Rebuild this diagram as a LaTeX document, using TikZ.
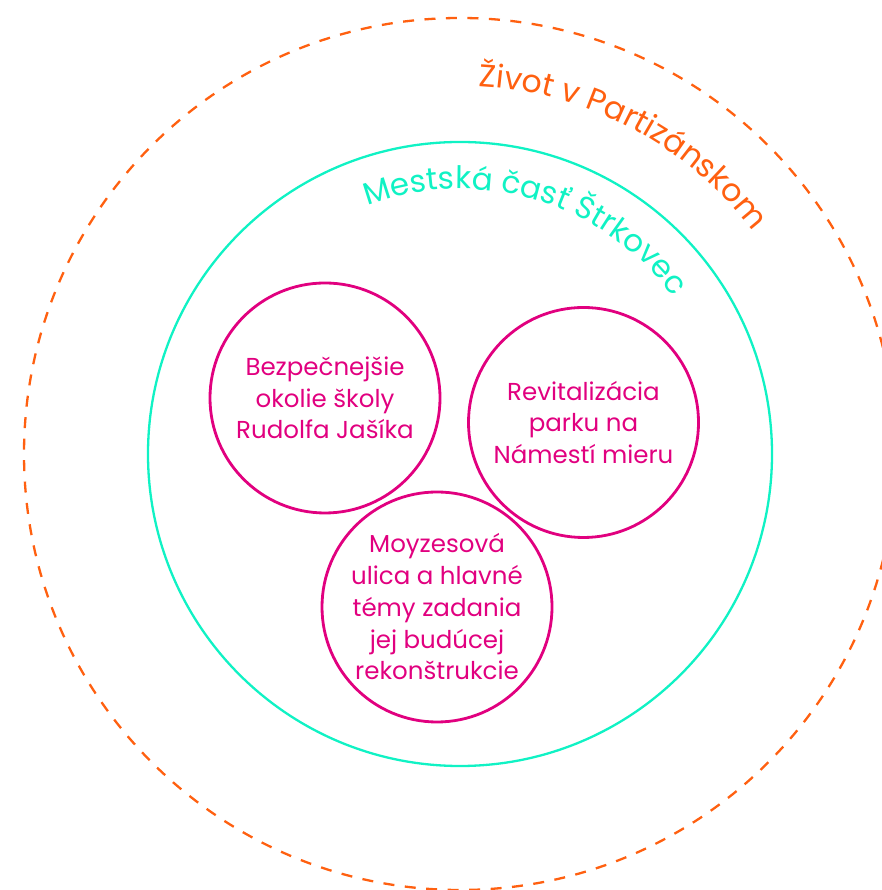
\documentclass[tikz,border=0pt]{standalone}
\usepackage{fontspec}
\setmainfont{Poppins}
\usetikzlibrary{decorations.text}
\definecolor{zivot}{HTML}{FF6010}
\definecolor{strk}{HTML}{10F2C4}
\definecolor{proj}{HTML}{E1007F}

\begin{document}
\begin{tikzpicture}[x=1pt,y=1pt,
        spot/.style={circle,draw=proj,line width=2.8pt,text=proj,align=center,
            minimum size=230pt,inner sep=0pt,font=\fontsize{24.5}{31.75}\selectfont}]
        \useasboundingbox (0,0) rectangle (881,890);
        \coordinate (m) at (460,436);

        \draw[zivot,line width=2.3pt,dash pattern=on 11pt off 10.5pt] (m) circle [radius=436];
        \draw[strk,line width=2.3pt] (m) circle [radius=312];

        \path[decorate,decoration={text along path,text align=center,text color=zivot,
            text={|\fontsize{31.5}{36}\selectfont|Život v Partizánskom}}]
            (m) ++(102.2:368) arc [start angle=102.2,end angle=22.2,radius=368];
        \path[decorate,decoration={text along path,text align=center,text color=strk,
            text={|\fontsize{31}{36}\selectfont|Mestská časť Štrkovec}}]
            (m) ++(123.4:265) arc [start angle=123.4,end angle=23.4,radius=265];

        \node[spot] (skola) at (325,492) {Bezpečnejšie\\okolie školy\\Rudolfa Jašíka};
        \node[spot] (park) at (583.5,467.5) {Revitalizácia\\parku na\\Námestí mieru};
        \node[spot] (moyzes) at (437,283) {Moyzesová\\ulica a hlavné\\témy zadania\\jej budúcej\\rekonštrukcie};
\end{tikzpicture}
\end{document}
